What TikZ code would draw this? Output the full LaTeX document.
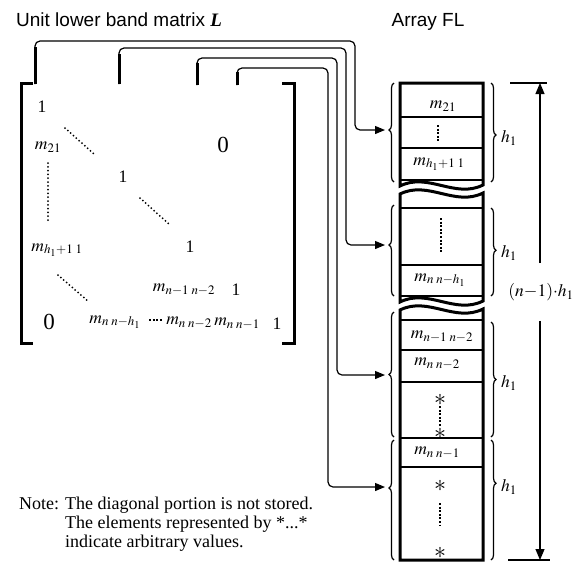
\documentclass[tikz,border=0pt]{standalone}
\usepackage{mathptmx}
\usepackage[no-math]{fontspec}
\setmainfont{Liberation Serif}
\setsansfont{Liberation Sans}
\usetikzlibrary{arrows.meta,decorations.pathreplacing}

\begin{document}
\begin{tikzpicture}[x=1pt,y=-1pt,
    entry/.style={font=\fontsize{17.5}{20}\selectfont, inner sep=0pt},
    star/.style={font=\fontsize{24}{24}\selectfont, inner sep=0pt},
    bigzero/.style={font=\fontsize{23}{24}\selectfont, inner sep=0pt},
    caption/.style={font=\sffamily\fontsize{19}{22}\selectfont, inner sep=0pt},
    note/.style={font=\fontsize{18}{19}\selectfont, inner sep=0pt, align=left},
    bracket/.style={line width=3pt},
    stub/.style={line width=3pt},
    feed/.style={line width=1.2pt, rounded corners=5pt, -{Triangle[length=10pt,width=8pt]}},
    edots/.style={line width=2pt, line cap=round, dash pattern=on 0pt off 3.8pt},
    cdots/.style={line width=1.6pt, dash pattern=on 2pt off 1.6pt},
    cellbox/.style={line width=3pt},
    cellrule/.style={line width=1.5pt},
    curly/.style={line width=1.2pt, decorate, decoration={brace, amplitude=5pt, aspect=#1}},
    dimtick/.style={line width=1.2pt},
    dimline/.style={line width=1.2pt, -{Triangle[length=11pt,width=9pt]}}
]
    \useasboundingbox (0,0) rectangle (579,563);

    % Titles
    \node[caption, anchor=base west] (ltitle) at (16,26) {Unit lower band matrix \textrm{\bfseries\itshape L}};
    \node[caption, anchor=base] (atitle) at (428,26) {Array FL};

    % Matrix brackets
    \draw[bracket] (33,83) -- (21,83) -- (21,343) -- (33,343);
    \draw[bracket] (282,83) -- (294,83) -- (294,343) -- (282,343);

    % Matrix entries
    \node[entry] (one1) at (42,107) {1};
    \node[entry] (m21) at (48,147) {$m_{21}$};
    \node[bigzero] (zeroup) at (223,145) {0};
    \node[entry] (one2) at (123,177) {1};
    \node[entry] (mh) at (57,250) {$m_{h_1+1\;1}$};
    \node[entry] (one3) at (190,247) {1};
    \node[entry] (mnm) at (184,290) {$m_{n-1\;n-2}$};
    \node[entry] (one4) at (236,290) {1};
    \node[bigzero] (zerolow) at (49,322) {0};
    \node[entry] (mnh) at (115,322) {$m_{n\;n-h_1}$};
    \node[entry] (mn2) at (189,323) {$m_{n\;n-2}$};
    \node[entry] (mn1) at (237,324) {$m_{n\;n-1}$};
    \node[entry] (one5) at (277,324) {1};

    % Matrix dots
    \draw[edots] (65,128) -- (94,154);
    \draw[edots] (140,198) -- (170,225);
    \draw[edots] (58,275) -- (89,302);
    \draw[edots] (48,163) -- (48,221);
    \draw[cdots] (149,320) -- (163,320);

    % Array FL
    \draw[cellbox] (400,83) -- (483,83) -- (483,185)
        .. controls (455,199) and (428,172) .. (400,186) -- cycle;
    \draw[cellbox] (400,194) .. controls (428,180) and (455,207) .. (483,193)
        -- (483,301) .. controls (455,315) and (428,288) .. (400,302) -- cycle;
    \draw[cellbox] (400,310) .. controls (428,296) and (455,323) .. (483,309)
        -- (483,560) -- (400,560) -- cycle;
    \foreach \y in {117,148,180,208,265,296,320,350,382,438,467}
        \draw[cellrule] (400,\y) -- (483,\y);

    % Array entries
    \node[entry] (a21) at (443,106) {$m_{21}$};
    \node[entry] (ah) at (439,164) {$m_{h_1+1\;1}$};
    \node[entry] (anh) at (440,280) {$m_{n\;n-h_1}$};
    \node[entry] (anm) at (442,337) {$m_{n-1\;n-2}$};
    \node[entry] (an2) at (437,364) {$m_{n\;n-2}$};
    \node[star] (s1) at (440,400) {$\ast$};
    \node[star] (s2) at (440,434) {$\ast$};
    \node[entry] (an1) at (437,453) {$m_{n\;n-1}$};
    \node[star] (s3) at (440,486) {$\ast$};
    \node[star] (s4) at (440,553) {$\ast$};
    \draw[cdots] (438,125) -- (438,142);
    \draw[cdots] (441,218) -- (441,253);
    \draw[cdots] (440,406) -- (440,427);
    \draw[cdots] (440,503) -- (440,526);

    % Braces
    \draw[curly=0.525] (394,182) -- (394,83);
    \draw[curly=0.56] (394,296) -- (394,205);
    \draw[curly=0.5] (394,437) -- (394,312);
    \draw[curly=0.6] (394,560) -- (394,440);
    \draw[curly=0.525] (491,83) -- (491,182);
    \draw[curly=0.48] (491,208) -- (491,296);
    \draw[curly=0.5] (491,322) -- (491,437);
    \draw[curly=0.36] (491,440) -- (491,560);
    \node[entry, anchor=west] (h1) at (501,138) {$h_1$};
    \node[entry, anchor=west] (h2) at (501,253) {$h_1$};
    \node[entry, anchor=west] (h3) at (501,383) {$h_1$};
    \node[entry, anchor=west] (h4) at (501,487) {$h_1$};

    % Connectors from the columns
    \coordinate (col1) at (35,84);
    \coordinate (col2) at (119,84);
    \coordinate (col3) at (197,85);
    \coordinate (col4) at (237,85);
    \coordinate (r1) at (355,41);
    \coordinate (r2) at (346,48);
    \coordinate (r3) at (337,58);
    \coordinate (r4) at (328,68);
    \coordinate (lb1) at (385,130);
    \coordinate (lb2) at (385,245);
    \coordinate (lb3) at (385,375);
    \coordinate (lb4) at (385,487);
    \draw[stub] (col1) -- ++(0,-37);
    \draw[stub] (col2) -- ++(0,-30);
    \draw[stub] (col3) -- ++(0,-22);
    \draw[stub] (col4) -- ++(0,-13);
    \draw[feed] (col1) |- (r1) |- (lb1);
    \draw[feed] (col2) |- (r2) |- (lb2);
    \draw[feed] (col3) |- (r3) |- (lb3);
    \draw[feed] (col4) |- (r4) |- (lb4);

    % Total length
    \coordinate (dtop) at (540,83);
    \coordinate (dbot) at (540,560);
    \draw[dimtick] (510,83) -- (547,83);
    \draw[dimtick] (508,560) -- (550,560);
    \node[entry, inner ysep=20pt] (span) at (541,292) {$(n{-}1){\cdot}h_1$};
    \draw[dimline] (span.north -| dtop) -- (dtop);
    \draw[dimline] (span.south -| dbot) -- (dbot);

    % Note
    \node[note, anchor=north west] (remark) at (19,497) {Note: The diagonal portion is not stored.\\
        \phantom{Note: }The elements represented by *...*\\
        \phantom{Note: }indicate arbitrary values.};
\end{tikzpicture}
\end{document}
